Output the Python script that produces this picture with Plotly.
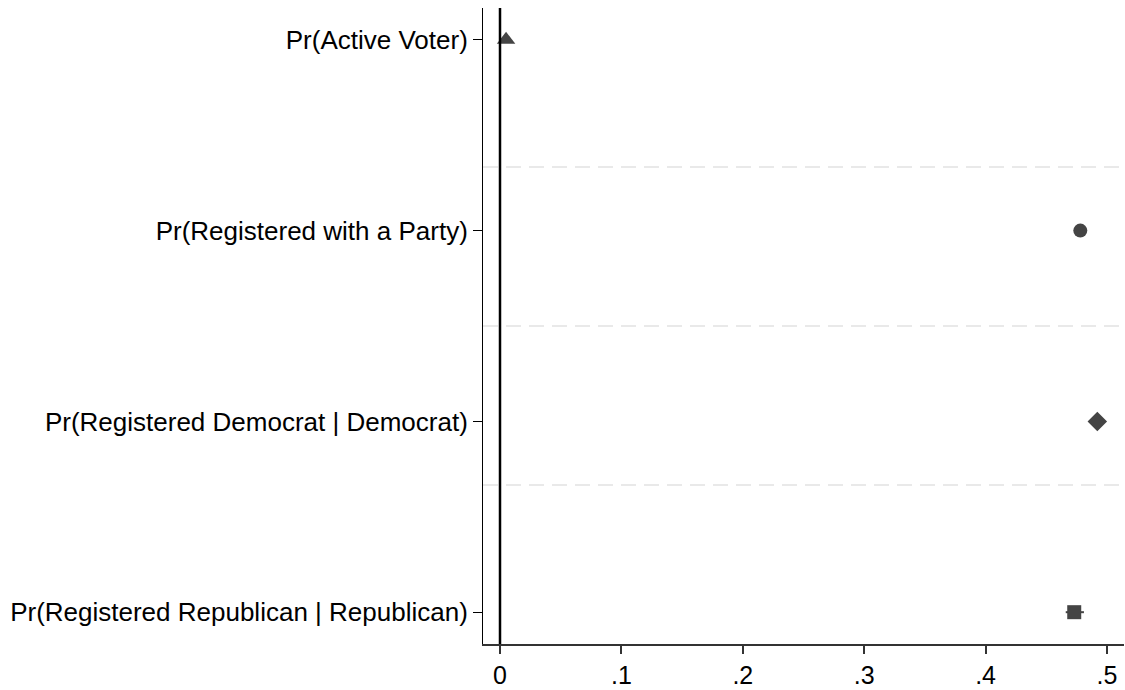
import plotly.graph_objects as go

# Outcome labels, top to bottom
outcomes = [
    "Pr(Active Voter)",
    "Pr(Registered with a Party)",
    "Pr(Registered Democrat | Democrat)",
    "Pr(Registered Republican | Republican)",
]
positions = [1, 2, 3, 4]

# Point estimates and 95% confidence bounds
estimates = [0.005, 0.478, 0.492, 0.473]
ci_low = [0.003, 0.475, 0.489, 0.466]
ci_high = [0.007, 0.481, 0.495, 0.481]

symbols = ["triangle-up", "circle", "diamond", "square"]
sizes = [16, 14, 15, 14]

x_ticks = [0, 0.1, 0.2, 0.3, 0.4, 0.5]
x_ticktext = ["0", ".1", ".2", ".3", ".4", ".5"]

marker_color = "#444444"

fig = go.Figure()

for i in range(len(outcomes)):
    fig.add_trace(go.Scatter(
        x=[estimates[i]],
        y=[positions[i]],
        mode="markers",
        marker=dict(symbol=symbols[i], size=sizes[i], color=marker_color,
                    line=dict(width=0)),
        error_x=dict(type="data", symmetric=False,
                     array=[ci_high[i] - estimates[i]],
                     arrayminus=[estimates[i] - ci_low[i]],
                     color=marker_color, thickness=2, width=0),
        showlegend=False,
        hoverinfo="skip",
    ))

# Separating dashed guide lines between outcome rows
for yg in [1.6667, 2.5, 3.3333]:
    fig.add_shape(type="line", xref="paper", x0=0, x1=1, yref="y", y0=yg, y1=yg,
                  line=dict(color="#e9e9e9", width=2, dash="15px,8px"), layer="below")

# Reference line at zero
fig.add_shape(type="line", xref="x", x0=0, x1=0, yref="paper", y0=0, y1=1,
              line=dict(color="black", width=2.5))

font_family = "Liberation Sans, Arial, Helvetica, sans-serif"

fig.update_layout(
    width=1125,
    height=690,
    margin=dict(l=483, r=1, t=8, b=42),
    paper_bgcolor="white",
    plot_bgcolor="white",
    font=dict(family=font_family, size=25, color="black"),
    xaxis=dict(
        range=[-0.014, 0.514],
        tickvals=x_ticks,
        ticktext=x_ticktext,
        ticks="outside",
        ticklen=8,
        tickwidth=1.5,
        tickcolor="#333333",
        showline=True,
        linecolor="#333333",
        linewidth=2,
        showgrid=False,
        zeroline=False,
        tickfont=dict(size=25, color="black"),
    ),
    yaxis=dict(
        range=[4.1667, 0.8333],
        tickvals=positions,
        ticktext=outcomes,
        ticks="outside",
        ticklen=9,
        tickwidth=1,
        tickcolor="black",
        showline=True,
        linecolor="black",
        linewidth=1,
        showgrid=False,
        zeroline=False,
        tickfont=dict(size=26, color="black"),
    ),
)

fig.write_html("out.html")
